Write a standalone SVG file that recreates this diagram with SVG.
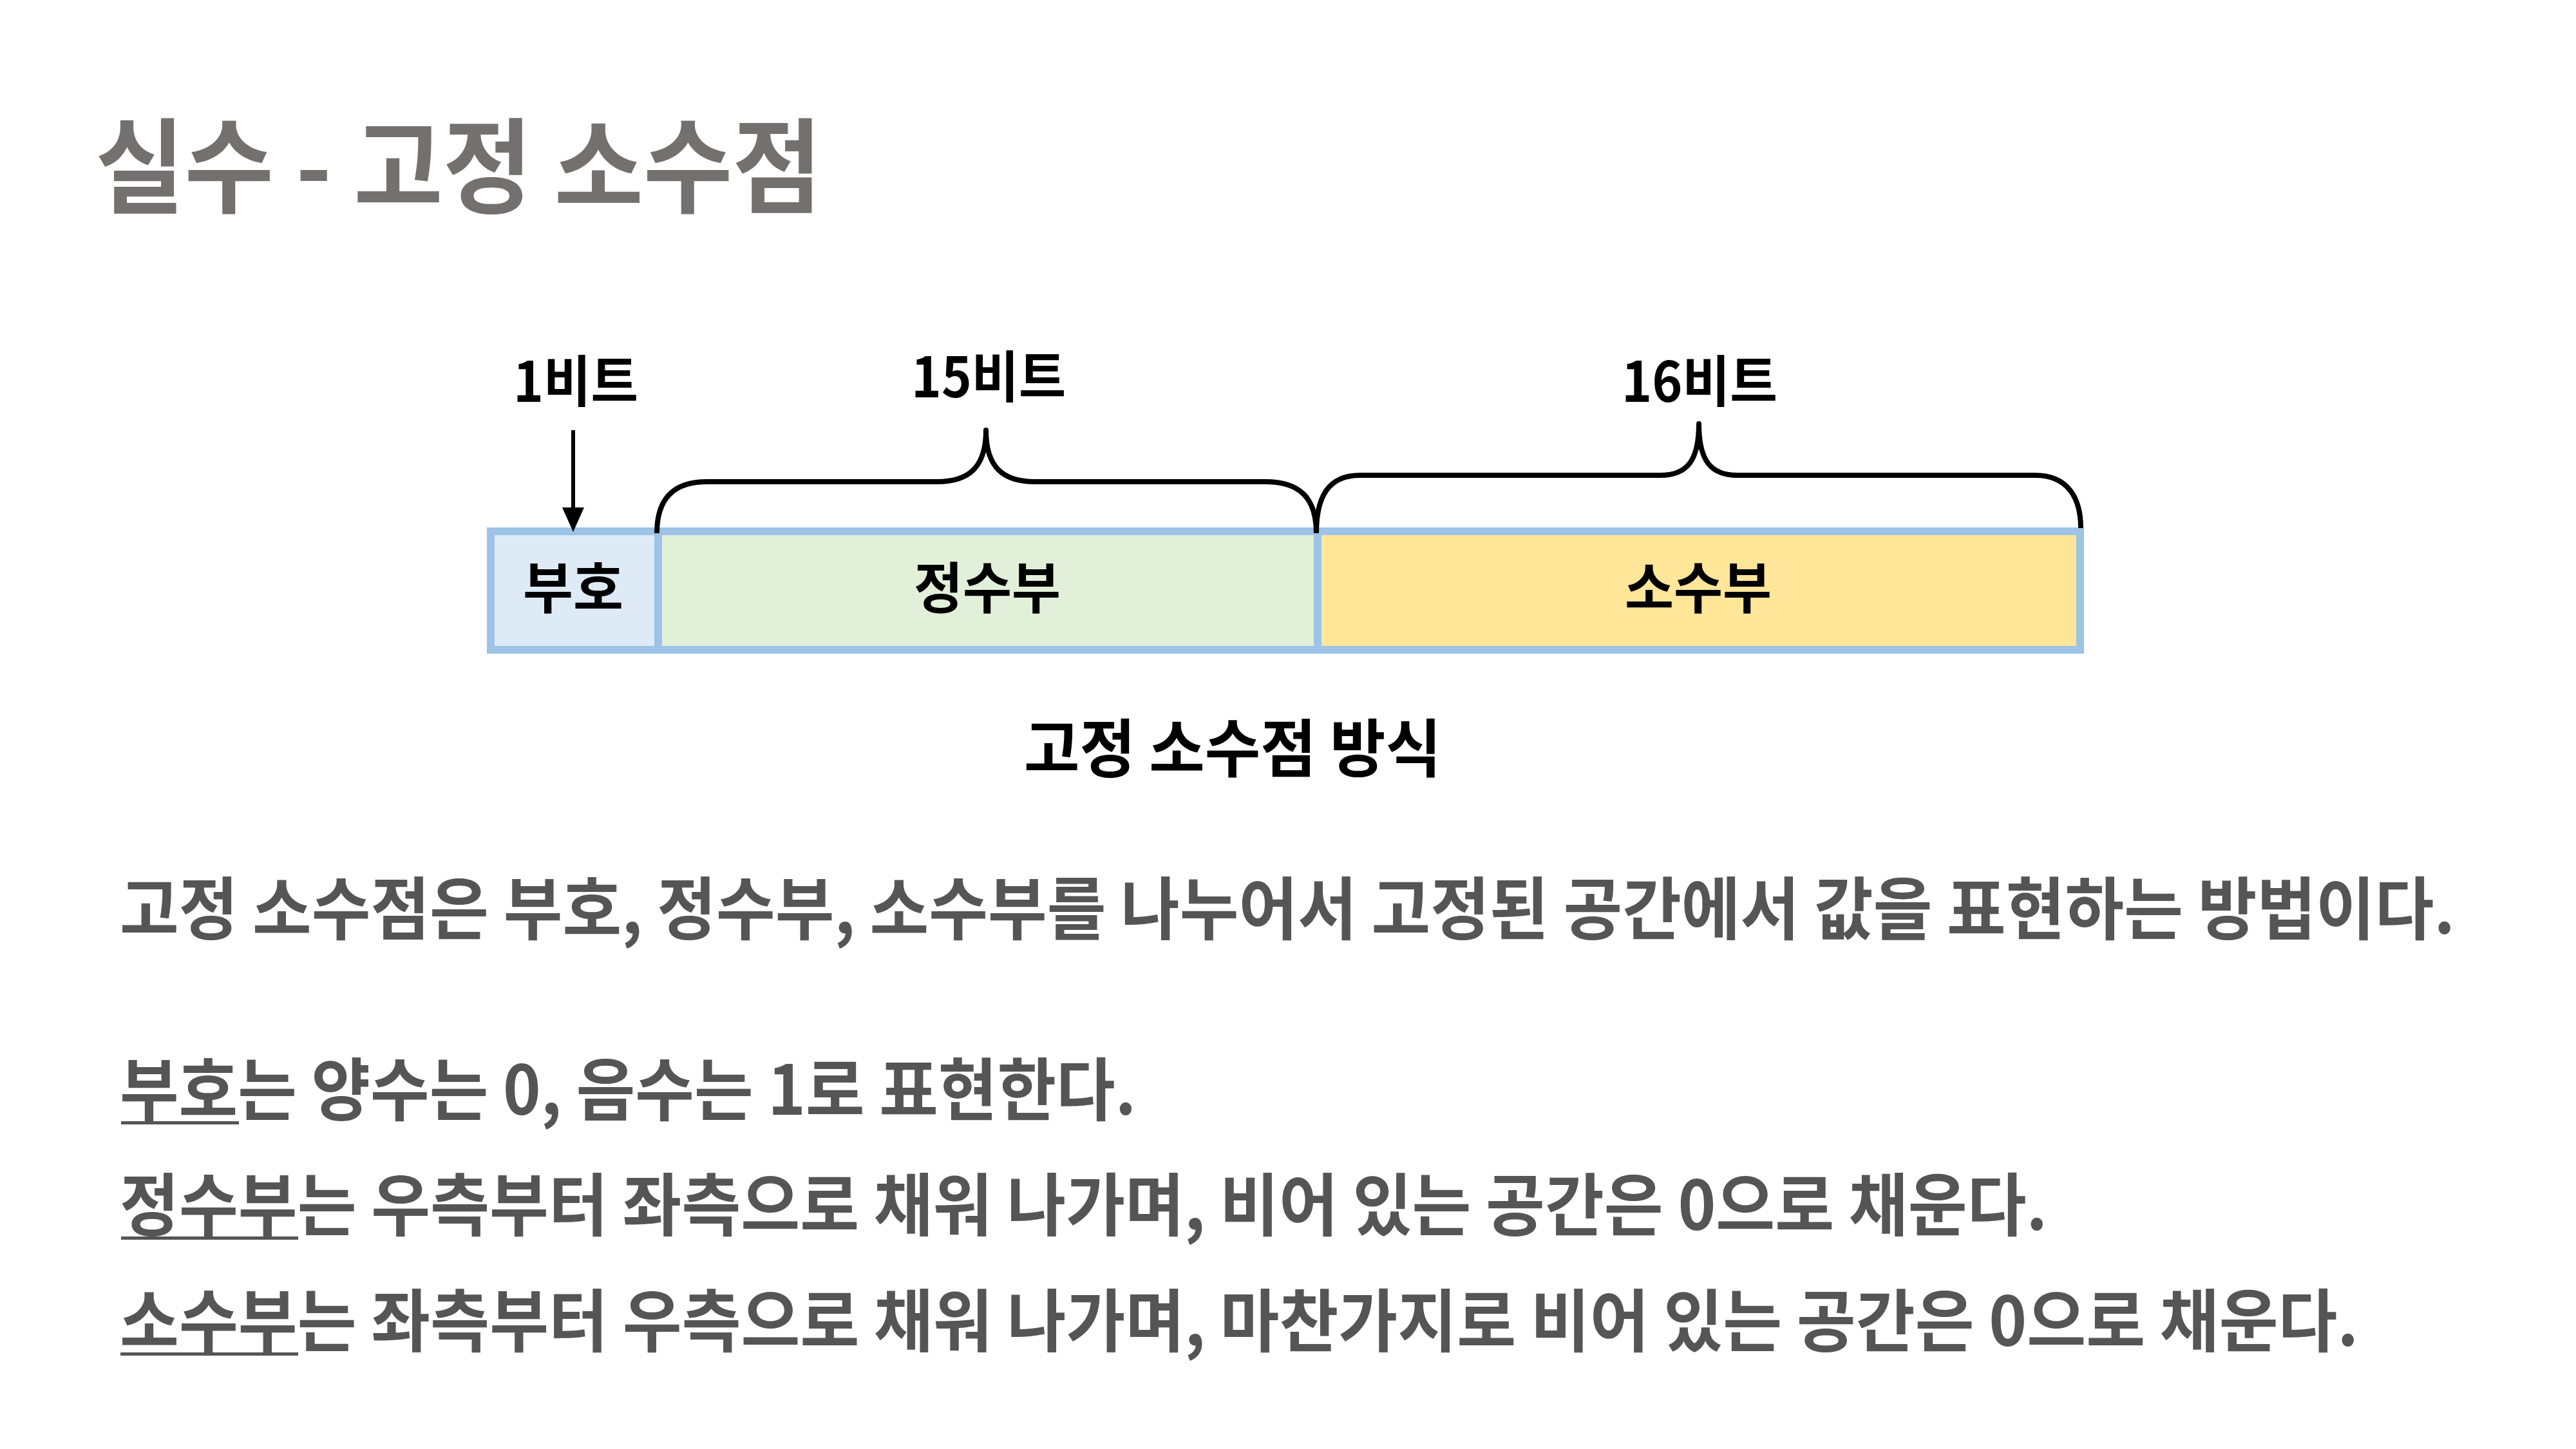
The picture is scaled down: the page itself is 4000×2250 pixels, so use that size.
<svg xmlns="http://www.w3.org/2000/svg" width="4000" height="2250" viewBox="0 0 4000 2250">
<style>
text{font-family:"Noto Sans CJK KR","Noto Sans",sans-serif;font-weight:700}
.title{font-size:160px;fill:#757070}
.lbl{font-size:86px;fill:#000}
.cap{font-size:98px;fill:#000}
.body{font-size:106px;fill:#555555}
.cell{stroke:#9dc3e6;stroke-width:12}
.brace{fill:none;stroke:#000;stroke-width:8;stroke-linejoin:round}
.ul{fill:#555555}
</style>
<rect width="4000" height="2250" fill="#ffffff"/>
<text class="title" x="148" y="318" textLength="1128" lengthAdjust="spacingAndGlyphs">실수 - 고정 소수점</text>

<g id="sign">
<rect class="cell" x="762" y="825" width="260" height="184" fill="#deebf7"/>
<text class="lbl" x="812" y="945" textLength="156" lengthAdjust="spacingAndGlyphs">부호</text>
</g>
<g id="integer">
<rect class="cell" x="1022" y="825" width="1024" height="184" fill="#e2f0d9"/>
<text class="lbl" x="1419" y="945" textLength="228" lengthAdjust="spacingAndGlyphs">정수부</text>
</g>
<g id="fraction">
<rect class="cell" x="2046" y="825" width="1184" height="184" fill="#ffe699"/>
<text class="lbl" x="2523" y="945" textLength="228" lengthAdjust="spacingAndGlyphs">소수부</text>
</g>

<g id="label-1bit"><text class="lbl" x="797" y="624" textLength="194" lengthAdjust="spacingAndGlyphs">1비트</text></g>
<g id="label-15bit"><text class="lbl" x="1415" y="617" textLength="240" lengthAdjust="spacingAndGlyphs">15비트</text></g>
<g id="label-16bit"><text class="lbl" x="2518" y="624" textLength="242" lengthAdjust="spacingAndGlyphs">16비트</text></g>

<g id="connectors">
<line x1="890" y1="668" x2="890" y2="792" stroke="#000" stroke-width="6"/>
<polygon points="873,788 907,788 890,826" fill="#000"/>
<path class="brace" d="M1020,828 C1020,775 1045,748 1098,748 L1455,748 C1505,748 1531,725 1531,668 C1531,725 1557,748 1607,748 L1965,748 C2020,748 2044,775 2044,828"/>
<path class="brace" d="M2044,828 C2044,772 2062,738 2112,738 L2578,738 C2620,738 2638,715 2638,658 C2638,715 2656,738 2698,738 L3160,738 C3210,738 3231,772 3231,820"/>
</g>

<g id="caption"><text class="cap" x="1590" y="1198" textLength="648" lengthAdjust="spacingAndGlyphs">고정 소수점 방식</text></g>

<g id="description">
<text class="body" x="186" y="1450" textLength="3626" lengthAdjust="spacingAndGlyphs">고정 소수점은 부호, 정수부, 소수부를 나누어서 고정된 공간에서 값을 표현하는 방법이다.</text>
<text class="body" x="186" y="1731" textLength="1578" lengthAdjust="spacingAndGlyphs">부호는 양수는 0, 음수는 1로 표현한다.</text>
<text class="body" x="186" y="1910" textLength="2993" lengthAdjust="spacingAndGlyphs">정수부는 우측부터 좌측으로 채워 나가며, 비어 있는 공간은 0으로 채운다.</text>
<text class="body" x="186" y="2090" textLength="3476" lengthAdjust="spacingAndGlyphs">소수부는 좌측부터 우측으로 채워 나가며, 마찬가지로 비어 있는 공간은 0으로 채운다.</text>
<rect class="ul" x="188" y="1741" width="183" height="5"/>
<rect class="ul" x="188" y="1920" width="275" height="5"/>
<rect class="ul" x="187" y="2100" width="276" height="5"/>
</g>
</svg>
